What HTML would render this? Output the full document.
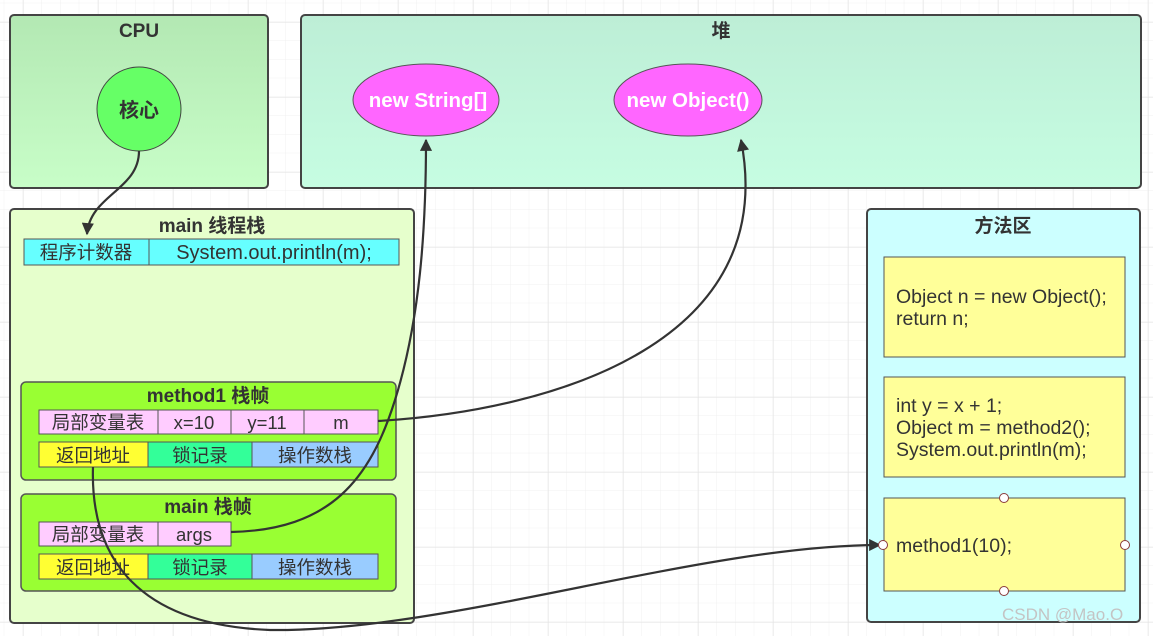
<!DOCTYPE html>
<html><head><meta charset="utf-8"><style>
html,body{margin:0;padding:0;background:#fff;}
svg{display:block;}
text{font-family:"Liberation Sans","Noto Sans CJK SC",sans-serif;}
</style></head><body>
<svg width="1153" height="636" viewBox="0 0 1153 636" xmlns="http://www.w3.org/2000/svg">
<defs>
<pattern id="minor" x="23" y="22" width="18.75" height="18.75" patternUnits="userSpaceOnUse">
<path d="M18.75 0V18.75H0" fill="none" stroke="#f0f0f0" stroke-width="1"/>
</pattern>
<pattern id="major" x="23" y="22" width="75" height="75" patternUnits="userSpaceOnUse">
<path d="M0 0V75M0 0H75" fill="none" stroke="#e2e2e2" stroke-width="1"/>
</pattern>
<linearGradient id="gcpu" x1="0" y1="0" x2="0" y2="1"><stop offset="0" stop-color="#b3e8b3"/><stop offset="1" stop-color="#c8fec8"/></linearGradient>
<linearGradient id="gheap" x1="0" y1="0" x2="0" y2="1"><stop offset="0" stop-color="#bdeed6"/><stop offset="1" stop-color="#c6fde2"/></linearGradient>
<marker id="arr" viewBox="0 0 10 10" refX="9" refY="5" markerWidth="6" markerHeight="5.5" orient="auto-start-reverse"><path d="M0 0L10 5L0 10z" fill="#333"/></marker>
</defs>
<rect width="1153" height="636" fill="url(#minor)"/>
<rect width="1153" height="636" fill="url(#major)"/>

<!-- CPU -->
<rect x="10" y="15" width="258" height="173" rx="4" fill="url(#gcpu)" stroke="#444" stroke-width="2"/>
<text x="139" y="37" text-anchor="middle" font-size="19" font-weight="bold" fill="#333">CPU</text>
<circle cx="139" cy="109" r="42" fill="#66ff66" stroke="#444" stroke-width="1"/>
<text x="139" y="117" text-anchor="middle" font-size="20" font-weight="bold" fill="#333">核心</text>

<!-- Heap -->
<rect x="301" y="15" width="840" height="173" rx="4" fill="url(#gheap)" stroke="#444" stroke-width="2"/>
<text x="721" y="37" text-anchor="middle" font-size="19" font-weight="bold" fill="#333">堆</text>
<ellipse cx="426" cy="100" rx="73" ry="36" fill="#ff66ff" stroke="#555" stroke-width="1"/>
<text x="428" y="107" text-anchor="middle" font-size="20.5" font-weight="bold" fill="#fff">new String[]</text>
<ellipse cx="688" cy="100" rx="74" ry="36" fill="#ff66ff" stroke="#555" stroke-width="1"/>
<text x="688" y="107" text-anchor="middle" font-size="20.5" font-weight="bold" fill="#fff">new Object()</text>

<!-- main thread stack -->
<rect x="10" y="209" width="404" height="414" rx="4" fill="#e6ffcc" stroke="#444" stroke-width="2"/>
<text x="212" y="232" text-anchor="middle" font-size="19" font-weight="bold" fill="#333">main 线程栈</text>
<g stroke="#555" stroke-width="1">
<rect x="24" y="239" width="125" height="26" fill="#66ffff"/>
<rect x="149" y="239" width="250" height="26" fill="#66ffff"/>
</g>
<text x="86" y="259" text-anchor="middle" font-size="18.5" fill="#333">程序计数器</text>
<text x="274" y="259" text-anchor="middle" font-size="20" fill="#333">System.out.println(m);</text>

<!-- method1 frame -->
<rect x="21" y="382" width="375" height="98" rx="5" fill="#99ff33" stroke="#555" stroke-width="1.5"/>
<text x="208" y="402" text-anchor="middle" font-size="19" font-weight="bold" fill="#333">method1 栈帧</text>
<g stroke="#555" stroke-width="1">
<rect x="39" y="410" width="119" height="24" fill="#ffccff"/>
<rect x="158" y="410" width="73" height="24" fill="#ffccff"/>
<rect x="231" y="410" width="73" height="24" fill="#ffccff"/>
<rect x="304" y="410" width="74" height="24" fill="#ffccff"/>
<rect x="39" y="442" width="109" height="25" fill="#ffff33"/>
<rect x="148" y="442" width="104" height="25" fill="#33ff99"/>
<rect x="252" y="442" width="126" height="25" fill="#99ccff"/>
</g>
<g font-size="18.5" fill="#333" text-anchor="middle">
<text x="98" y="429">局部变量表</text><text x="194" y="429">x=10</text><text x="267" y="429">y=11</text><text x="341" y="429">m</text>
<text x="93" y="462">返回地址</text><text x="200" y="462">锁记录</text><text x="315" y="462">操作数栈</text>
</g>

<!-- main frame -->
<rect x="21" y="494" width="375" height="97" rx="5" fill="#99ff33" stroke="#555" stroke-width="1.5"/>
<text x="208" y="513" text-anchor="middle" font-size="19" font-weight="bold" fill="#333">main 栈帧</text>
<g stroke="#555" stroke-width="1">
<rect x="39" y="522" width="119" height="24" fill="#ffccff"/>
<rect x="158" y="522" width="73" height="24" fill="#ffccff"/>
<rect x="39" y="554" width="109" height="25" fill="#ffff33"/>
<rect x="148" y="554" width="104" height="25" fill="#33ff99"/>
<rect x="252" y="554" width="126" height="25" fill="#99ccff"/>
</g>
<g font-size="18.5" fill="#333" text-anchor="middle">
<text x="98" y="541">局部变量表</text><text x="194" y="541">args</text>
<text x="93" y="574">返回地址</text><text x="200" y="574">锁记录</text><text x="315" y="574">操作数栈</text>
</g>

<!-- method area -->
<rect x="867" y="209" width="273" height="413" rx="4" fill="#ccffff" stroke="#444" stroke-width="2"/>
<text x="1003" y="232" text-anchor="middle" font-size="19" font-weight="bold" fill="#333">方法区</text>
<g stroke="#555" stroke-width="1" fill="#ffff99">
<rect x="884" y="257" width="241" height="100"/>
<rect x="884" y="377" width="241" height="100"/>
<rect x="884" y="498" width="241" height="93"/>
</g>
<g font-size="19.5" fill="#333">
<text x="896" y="303">Object n = new Object();</text>
<text x="896" y="325">return n;</text>
<text x="896" y="412">int y = x + 1;</text>
<text x="896" y="434">Object m = method2();</text>
<text x="896" y="456">System.out.println(m);</text>
<text x="896" y="552">method1(10);</text>
</g>

<!-- connectors -->
<g fill="none" stroke="#333" stroke-width="2.2">
<path d="M139 151 C139 190 90 195 87 234" marker-end="url(#arr)"/>
<path d="M231 532 C330 530 370 480 395 400 C420 320 426 230 426 140" marker-end="url(#arr)"/>
<path d="M378 421 C560 410 780 340 741 140" marker-end="url(#arr)"/>
<path d="M93 467 C90 560 140 625 270 630 C450 632 700 545 880 545" marker-end="url(#arr)"/>
</g>
<g fill="#fff" stroke="#8b3a3a" stroke-width="1">
<circle cx="883" cy="545" r="4.5"/><circle cx="1125" cy="545" r="4.5"/>
<circle cx="1004" cy="498" r="4.5"/><circle cx="1004" cy="591" r="4.5"/>
</g>
<text x="1002" y="620" font-size="17" fill="#c4c4c4">CSDN @Mao.O</text>
</svg>
</body></html>
